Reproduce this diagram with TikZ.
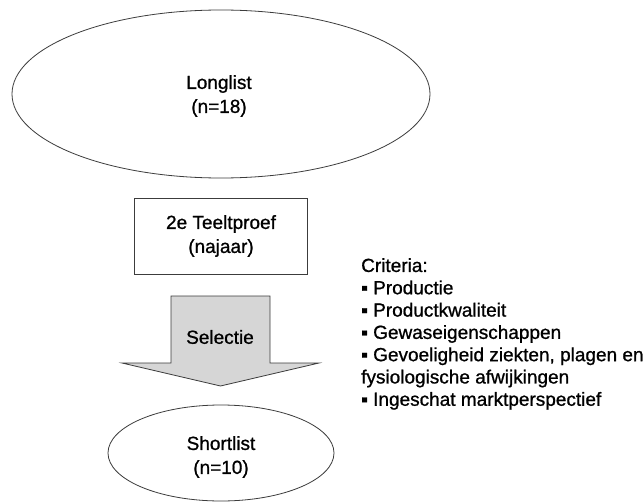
\documentclass[tikz,border=0pt]{standalone}
\usepackage{fontspec}
\setmainfont{Liberation Sans}[BoldFont={Liberation Sans},BoldFeatures={FakeBold=0.9}]
\usetikzlibrary{shapes.geometric}
\definecolor{edge}{HTML}{3C3C3C}
\definecolor{arrowfill}{HTML}{D6D6D6}
\begin{document}
\begin{tikzpicture}[x=1pt,y=-1pt,
  outline/.style={draw=edge,line width=0.8pt},
  label/.style={align=center,font=\fontsize{19}{24}\selectfont\bfseries,inner sep=0pt},
  crit/.style={align=left,anchor=north west,font=\fontsize{19}{22.3}\selectfont\bfseries,inner sep=0pt}]
\useasboundingbox[fill=white] (0,0) rectangle (643,503);
% long list
\node[outline,ellipse,minimum width=418pt,minimum height=168pt,inner sep=0pt] (long) at (221,94) {};
\node[label] (longtxt) at (219,96) {Longlist\\(n=18)};
% trial box
\node[outline,rectangle,minimum width=173pt,minimum height=76pt,inner sep=0pt] (trial) at (220.5,236) {};
\node[label] (trialtxt) at (221,236) {2e Teeltproef\\(najaar)};
% selection arrow
\coordinate (tip) at (220.5,386);
\draw[outline,fill=arrowfill] (171,296) -- (270,296) -- (270,363) -- (319,363) -- (tip) -- (122,363) -- (171,363) -- cycle;
\node[label] (sel) at (220,337) {Selectie};
% short list
\node[outline,ellipse,minimum width=226pt,minimum height=96pt,inner sep=0pt] (short) at (221,453) {};
\node[label] (shorttxt) at (221,457) {Shortlist\\(n=10)};
% criteria
\node[crit] (criteria) at (361,258) {Criteria:\\
\char"25AA{} Productie\\
\char"25AA{} Productkwaliteit\\
\char"25AA{} Gewaseigenschappen\\
\char"25AA{} Gevoeligheid ziekten, plagen en\\
fysiologische afwijkingen\\
\char"25AA{} Ingeschat marktperspectief};
\end{tikzpicture}
\end{document}
